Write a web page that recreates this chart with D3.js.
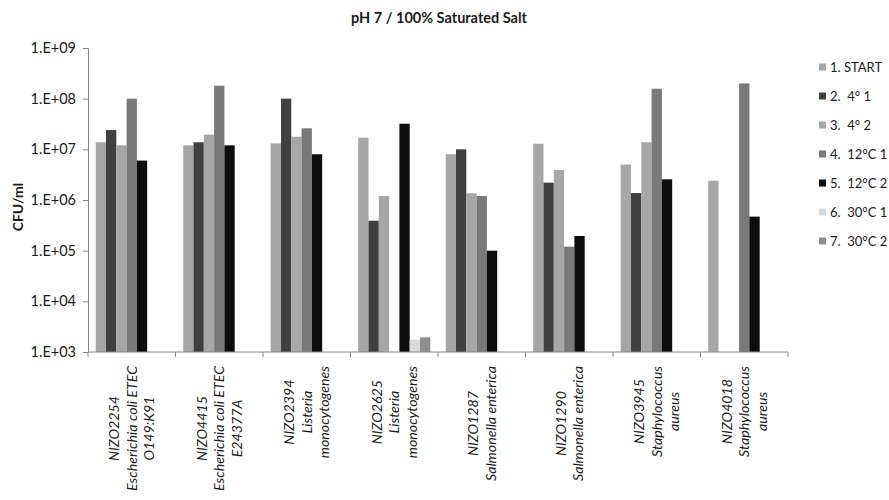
<!DOCTYPE html>
<html>
<head>
<meta charset="utf-8">
<script src="https://cdn.jsdelivr.net/npm/d3@7"></script>
<style>
  body { margin: 0; background: #fff; }
  text { font-family: Lato, "Open Sans", sans-serif; fill: #1a1a1a; }
</style>
</head>
<body>
<script>
var categories = [
  ['NIZO2254', 'Escherichia coli ETEC', 'O149:K91'],
  ['NIZO4415', 'Escherichia coli ETEC', 'E24377A'],
  ['NIZO2394', 'Listeria', 'monocytogenes'],
  ['NIZO2625', 'Listeria', 'monocytogenes'],
  ['NIZO1287', 'Salmonella enterica'],
  ['NIZO1290', 'Salmonella enterica'],
  ['NIZO3945', 'Staphylococcus', 'aureus'],
  ['NIZO4018', 'Staphylococcus', 'aureus']
]

var seriesNames = ['1. START', '2.  4° 1', '3.  4° 2', '4.  12°C 1', '5.  12°C 2', '6.  30°C 1', '7.  30°C 2']
var seriesColors = ['#a6a6a6', '#404040', '#a6a6a6', '#797979', '#0d0d0d', '#d9d9d9', '#8e8e8e']

var start   = [1.38e7, 1.2e7, 1.31e7, 1.7e7, 8.0e6, 1.29e7, 5.0e6, 2.4e6]
var fridge1 = [2.4e7, 1.38e7, 1.0e8, 3.9e5, 1.0e7, 2.2e6, 1.37e6, null]
var fridge2 = [1.2e7, 1.95e7, 1.77e7, 1.2e6, 1.36e6, 3.9e6, 1.38e7, null]
var c12_1   = [1.0e8, 1.8e8, 2.6e7, null, 1.2e6, 1.2e5, 1.57e8, 2.0e8]
var c12_2   = [6.0e6, 1.2e7, 8.0e6, 3.2e7, 1.0e5, 1.95e5, 2.56e6, 4.7e5]
var c30_1   = [null, null, null, 1.75e3, null, null, null, null]
var c30_2   = [null, null, null, 1.95e3, null, null, null, null]

var yTicks = [1e3, 1e4, 1e5, 1e6, 1e7, 1e8, 1e9]

var seriesValues = [start, fridge1, fridge2, c12_1, c12_2, c30_1, c30_2]

var margin = {left: 88, right: 101, top: 48, bottom: 148}
var W = 889, H = 500

var svg = d3.select('body').append('svg').attr('width', W).attr('height', H)

var catIdx = d3.range(categories.length)
var x = d3.scaleBand().domain(catIdx).range([margin.left, W - margin.right])
var x1 = d3.scaleBand().domain(d3.range(seriesNames.length)).range([0, x.bandwidth()])
  .paddingInner(0).paddingOuter(0.75)
var y = d3.scaleLog().domain([1e3, 1e9]).range([H - margin.bottom, margin.top])

// bars
var groups = svg.append('g').selectAll('g').data(catIdx).join('g')
  .attr('transform', function(i){ return 'translate(' + x(i) + ',0)' })

groups.selectAll('rect')
  .data(function(i){
    return seriesValues.map(function(vals, s){ return {s: s, v: vals[i]} })
      .filter(function(d){ return d.v != null })
  })
  .join('rect')
  .attr('x', function(d){ return x1(d.s) })
  .attr('width', x1.bandwidth())
  .attr('y', function(d){ return y(d.v) })
  .attr('height', function(d){ return y(1e3) - y(d.v) })
  .attr('fill', function(d){ return seriesColors[d.s] })

// y axis
var yAxis = d3.axisLeft(y).tickValues(yTicks).tickSizeOuter(0).tickSize(5).tickPadding(7)
  .tickFormat(function(d){ return '1.E+' + String(Math.round(Math.log10(d))).padStart(2, '0') })
var yg = svg.append('g').attr('transform', 'translate(' + margin.left + ',0)').call(yAxis)
yg.selectAll('text').style('font-size', '14.5px').attr('fill', '#1a1a1a')
yg.selectAll('line, path').attr('stroke', '#868686')

// x axis line + boundary ticks
var xg = svg.append('g')
xg.append('line')
  .attr('x1', x.range()[0]).attr('x2', x.range()[1])
  .attr('y1', y(1e3)).attr('y2', y(1e3))
  .attr('stroke', '#868686')
xg.selectAll('line.tick').data(catIdx.concat([categories.length])).join('line')
  .attr('class', 'tick')
  .attr('x1', function(i){ return x.range()[0] + i * x.step() })
  .attr('x2', function(i){ return x.range()[0] + i * x.step() })
  .attr('y1', y(1e3)).attr('y2', y(1e3) + 5)
  .attr('stroke', '#868686')

// category labels, rotated
var labTop = y(1e3) + 14
var lineH = 17.5
var labs = svg.append('g').selectAll('g').data(catIdx).join('g')
  .attr('transform', function(i){ return 'translate(' + (x(i) + x.bandwidth() / 2) + ',' + labTop + ') rotate(-90)' })

labs.each(function(i){
  var lines = categories[i]
  var t = d3.select(this).append('text')
    .attr('text-anchor', 'middle')
    .style('font-size', '14.2px')
    .style('font-style', 'italic')
  var spans = t.selectAll('tspan').data(lines).join('tspan')
    .attr('x', 0)
    .attr('y', function(d, k){ return (k - (lines.length - 1) / 2) * lineH + 5 })
    .text(function(d){ return d })
  var maxLen = d3.max(spans.nodes(), function(n){ return n.getComputedTextLength() })
  spans.attr('x', -maxLen / 2)
})

// title
svg.append('text')
  .attr('x', 439).attr('y', 23)
  .attr('text-anchor', 'middle')
  .style('font-size', '14.5px')
  .style('font-weight', 'bold')
  .text('pH 7 / 100% Saturated Salt')

// y label
svg.append('text')
  .attr('transform', 'translate(23,' + ((margin.top + H - margin.bottom) / 2 + 7) + ') rotate(-90)')
  .attr('text-anchor', 'middle')
  .style('font-size', '14px')
  .style('font-weight', 'bold')
  .text('CFU/ml')

// legend
var legend = svg.append('g').attr('transform', 'translate(819,67)')
var items = legend.selectAll('g').data(seriesNames).join('g')
  .attr('transform', function(d, i){ return 'translate(0,' + i * 29 + ')' })
items.append('rect')
  .attr('x', 0).attr('y', -3.5).attr('width', 7).attr('height', 7)
  .attr('fill', function(d, i){ return seriesColors[i] })
items.append('text')
  .attr('x', 11).attr('y', 4.5)
  .style('font-size', '13px')
  .style('white-space', 'pre')
  .text(function(d){ return d })
</script>
</body>
</html>
